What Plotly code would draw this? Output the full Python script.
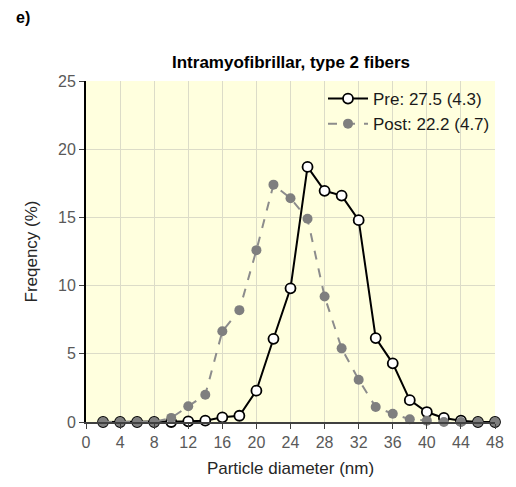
import plotly.graph_objects as go

diameters = [2, 4, 6, 8, 10, 12, 14, 16, 18, 20, 22, 24, 26, 28, 30, 32, 34, 36, 38, 40, 42, 44, 46, 48]
pre_freq = [0, 0, 0, 0, 0, 0.05, 0.1, 0.34, 0.46, 2.3, 6.1, 9.8, 18.7, 16.95, 16.6, 14.8, 6.15, 4.3, 1.6, 0.73, 0.3, 0.1, 0, 0]
post_freq = [0, 0, 0, 0, 0.3, 1.15, 2.0, 6.65, 8.2, 12.6, 17.4, 16.4, 14.9, 9.2, 5.4, 3.1, 1.1, 0.6, 0.2, 0.1, 0, 0, 0, 0]
pre_label = "Pre: 27.5 (4.3)"
post_label = "Post: 22.2 (4.7)"
x_ticks = list(range(0, 49, 4))
y_ticks = [0, 5, 10, 15, 20, 25]

FONT = "Liberation Sans, Arial, sans-serif"

fig = go.Figure()
fig.add_trace(go.Scatter(
    x=diameters, y=pre_freq, name=pre_label, mode="lines+markers",
    line=dict(color="black", width=2),
    marker=dict(symbol="circle", size=10, color="white", line=dict(color="black", width=1.8)),
    cliponaxis=False,
))
fig.add_trace(go.Scatter(
    x=diameters, y=post_freq, name=post_label, mode="lines+markers",
    line=dict(color="#8c8c8c", width=2, dash="dash"),
    marker=dict(symbol="circle", size=10, color="#7f7f7f", line=dict(width=0)),
    cliponaxis=False,
))

fig.update_layout(
    width=516, height=487,
    margin=dict(l=86, r=13, t=81, b=63),
    paper_bgcolor="white",
    plot_bgcolor="#FFFFDE",
    font=dict(family=FONT, size=16, color="#404040"),
    showlegend=True,
    legend=dict(x=1.0, xanchor="right", y=1.0, yanchor="top",
                bgcolor="rgba(0,0,0,0)", font=dict(size=17, color="#1a1a1a"),
                tracegroupgap=0, itemwidth=40),
    xaxis=dict(
        range=[0, 48], tickmode="array", tickvals=x_ticks, ticktext=[str(t) for t in x_ticks],
        showgrid=True, gridcolor="#DCDCC8", gridwidth=1,
        showline=True, linecolor="#404040", linewidth=2,
        ticks="outside", ticklen=5, tickcolor="#404040", tickwidth=1,
        tickfont=dict(size=16, color="#595959"),
        title=dict(text="Particle diameter (nm)", font=dict(size=17, color="#262626"), standoff=12),
        zeroline=False,
    ),
    yaxis=dict(
        range=[0, 25], tickmode="array", tickvals=y_ticks,
        showgrid=True, gridcolor="#DCDCC8", gridwidth=1,
        showline=True, linecolor="black", linewidth=2,
        ticks="outside", ticklen=5, tickcolor="#404040", tickwidth=1,
        tickfont=dict(size=16, color="#595959"),
        title=dict(text="Freqency (%)", font=dict(size=17, color="#262626"), standoff=16),
        zeroline=False,
    ),
)

fig.add_annotation(text="<b>Intramyofibrillar, type 2 fibers</b>", xref="paper", yref="paper",
                   x=0.5, y=1.0, yshift=19, xanchor="center", yanchor="middle", showarrow=False,
                   font=dict(size=17, color="black", family=FONT))
fig.add_annotation(text="<b>e)</b>", xref="paper", yref="paper",
                   x=0, xshift=-72, y=1.0, yshift=64, xanchor="left", yanchor="middle", showarrow=False,
                   font=dict(size=16, color="black", family=FONT))

fig.write_html("out.html")
